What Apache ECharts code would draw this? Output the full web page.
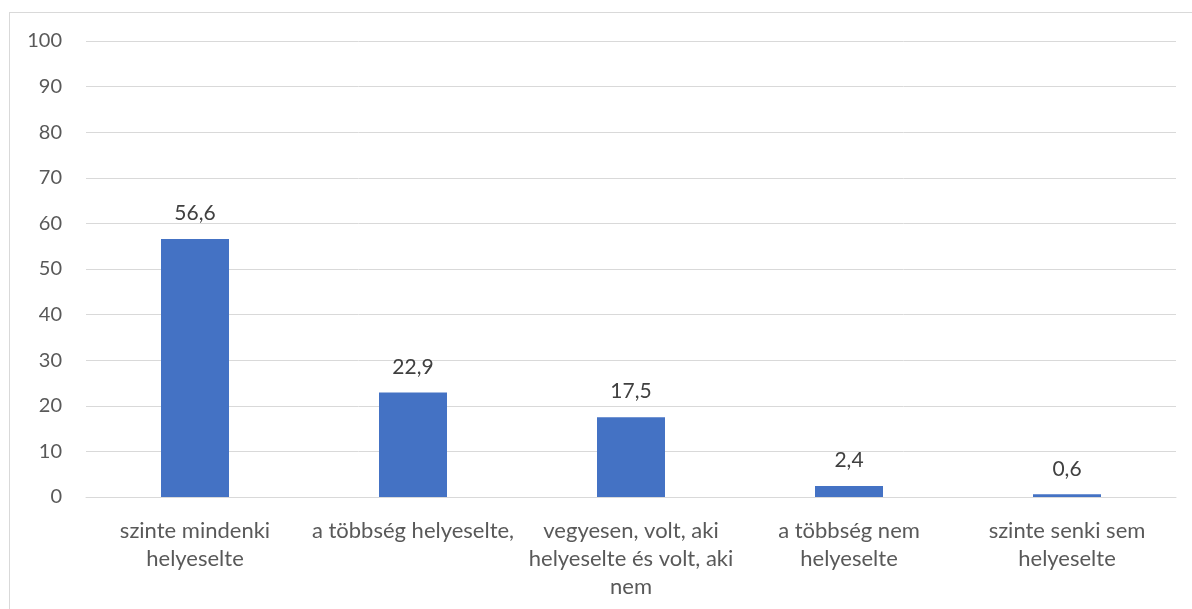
<!DOCTYPE html>
<html><head><meta charset="utf-8">
<script src="https://cdn.jsdelivr.net/npm/echarts@6/dist/echarts.min.js"></script>
<style>
html,body{margin:0;padding:0;background:#fff;}
#frame{position:absolute;left:9px;top:12px;width:1200px;height:620px;border:1px solid #d9d9d9;box-sizing:border-box;}
#c{position:absolute;left:0;top:0;width:1192px;height:609px;}
</style></head>
<body>
<div id="frame"></div>
<div id="c"></div>
<script>
const categories = ["szinte mindenki\nhelyeselte", "a többség helyeselte,", "vegyesen, volt, aki\nhelyeselte és volt, aki\nnem", "a többség nem\nhelyeselte", "szinte senki sem\nhelyeselte"];
const values = [56.6, 22.9, 17.5, 2.4, 0.6];
const yTicks = {min: 0, max: 100, interval: 10};

const chart = echarts.init(document.getElementById('c'), null, {renderer: 'canvas'});
chart.setOption({
  animation: false,
  grid: {left: 86, right: 16, top: 41, bottom: 112, containLabel: false},
  xAxis: {
    type: 'category', data: categories,
    axisLine: {show: true, lineStyle: {color: '#d9d9d9', width: 1}},
    axisTick: {show: false},
    axisLabel: {color: '#595959', fontFamily: 'Lato', fontSize: 22, lineHeight: 28, margin: 20, interval: 0}
  },
  yAxis: {
    type: 'value', min: yTicks.min, max: yTicks.max, interval: yTicks.interval,
    axisLine: {show: false}, axisTick: {show: false},
    splitLine: {lineStyle: {color: '#d9d9d9', width: 1}},
    axisLabel: {color: '#595959', fontFamily: 'Lato', fontSize: 20, margin: 24}
  },
  series: [{
    type: 'bar', data: values, barWidth: 68,
    itemStyle: {color: '#4472c4'},
    label: {show: true, position: 'top', distance: 15, color: '#404040', fontFamily: 'Lato', fontSize: 21,
      formatter: p => String(p.value).replace('.', ',')}
  }]
});
</script>
</body></html>
